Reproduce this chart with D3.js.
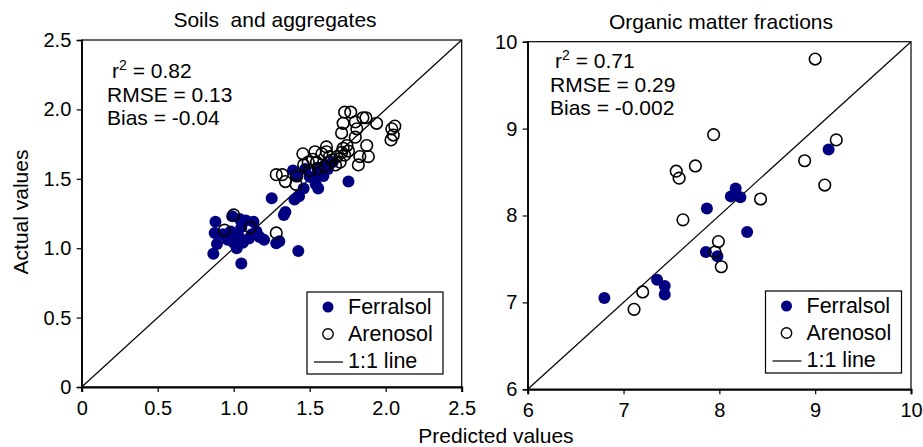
<!DOCTYPE html>
<html>
<head>
<meta charset="utf-8">
<script src="https://cdn.jsdelivr.net/npm/d3@7"></script>
<style>
  body { margin: 0; background: #fff; }
  svg { font-family: "Liberation Sans", Arial, Helvetica, sans-serif; }
</style>
</head>
<body>
<div id="chart"></div>
<script>
// data

// Soils and aggregates
var soilFerralsol = [
  [0.88,1.19],[0.875,1.11],[0.89,1.03],[0.866,0.96],[0.93,1.10],[0.96,1.06],[0.98,1.12],
  [1.00,1.04],[1.02,1.00],[1.03,1.09],[1.05,1.15],[1.06,1.04],[1.08,1.20],[1.10,1.07],
  [1.12,1.10],[1.13,1.19],[1.15,1.12],[1.17,1.08],[1.20,1.06],[1.05,0.89],[0.99,1.23],
  [1.04,1.21],[1.28,1.035],[1.30,1.05],[1.425,0.98],[1.25,1.36],[1.34,1.26],[1.33,1.24],
  [1.40,1.35],[1.43,1.375],[1.39,1.56],[1.41,1.52],[1.50,1.515],[1.54,1.46],[1.556,1.43],
  [1.57,1.54],[1.59,1.52],[1.55,1.58],[1.62,1.57],[1.60,1.60],[1.65,1.62],[1.755,1.48],
  [1.47,1.57],[1.53,1.50],[1.46,1.43]
];
var soilArenosol = [
  [0.94,1.13],[1.00,1.24],[1.11,1.15],[1.28,1.11],
  [1.28,1.53],[1.32,1.53],[1.34,1.48],[1.41,1.46],[1.415,1.52],
  [1.455,1.68],[1.46,1.60],[1.49,1.62],[1.50,1.56],[1.52,1.64],[1.535,1.695],[1.545,1.62],
  [1.556,1.575],[1.58,1.68],[1.60,1.59],[1.61,1.73],[1.61,1.695],[1.63,1.66],[1.645,1.635],
  [1.67,1.60],[1.68,1.66],[1.70,1.62],[1.71,1.69],[1.72,1.72],[1.73,1.67],[1.745,1.74],
  [1.755,1.70],[1.71,1.83],[1.72,1.90],[1.73,1.98],[1.77,1.98],[1.80,1.91],[1.81,1.86],
  [1.80,1.80],[1.82,1.60],[1.83,1.66],[1.875,1.74],[1.886,1.66],[1.85,1.94],[1.87,1.94],
  [1.94,1.90],[2.035,1.78],[2.05,1.815],[2.04,1.86],[2.06,1.88]
];

// Organic matter fractions
var omFerralsol = [
  [9.14,8.76],[8.17,8.31],[8.12,8.22],[8.22,8.21],[7.87,8.08],[8.29,7.81],
  [7.86,7.58],[7.98,7.53],[7.35,7.26],[7.43,7.19],[7.43,7.09],[6.80,7.05]
];
var omArenosol = [
  [9.00,9.80],[7.94,8.93],[9.22,8.87],[8.89,8.63],[7.75,8.57],[7.55,8.51],[7.58,8.43],
  [9.10,8.35],[8.43,8.19],[7.62,7.95],[7.99,7.70],[7.955,7.58],[8.02,7.41],[7.20,7.12],
  [7.11,6.92]
];

var soilTicks = [0, 0.5, 1.0, 1.5, 2.0, 2.5];
var omTicks = [6, 7, 8, 9, 10];
var soilStats = ["0.82", "RMSE = 0.13", "Bias = -0.04"];
var omStats = ["0.71", "RMSE = 0.29", "Bias = -0.002"];
var legendLabels = ["Ferralsol", "Arenosol", "1:1 line"];

var navy = "#000080";

var svg = d3.select('#chart')
    .append('svg')
    .attr('width', 923)
    .attr('height', 447);

function drawPanel(p) {
    var g = svg.append('g');

    var x_scale = d3.scaleLinear().domain(p.domain).range([p.left, p.right]);
    var y_scale = d3.scaleLinear().domain(p.domain).range([p.bottom, p.top]);

    // frame
    g.append('rect')
        .attr('x', p.left).attr('y', p.top)
        .attr('width', p.right - p.left).attr('height', p.bottom - p.top)
        .attr('fill', 'none').attr('stroke', '#000').attr('stroke-width', 1.2);

    // axes
    var x_axis = d3.axisBottom(x_scale).tickValues(p.ticks).tickSize(5).tickFormat(p.fmt);
    var y_axis = d3.axisLeft(y_scale).tickValues(p.ticks).tickSize(5).tickFormat(p.fmt);

    var xa = g.append('g')
        .attr('transform', 'translate(0,' + p.bottom + ')')
        .call(x_axis);
    xa.attr('font-family', null);
    xa.select('.domain').attr('stroke-width', 2);
    xa.selectAll('text').attr('font-size', 20).attr('dy', '1.0em');

    var ya = g.append('g')
        .attr('transform', 'translate(' + p.left + ',0)')
        .call(y_axis);
    ya.attr('font-family', null);
    ya.select('.domain').attr('stroke-width', 1.5);
    ya.selectAll('text').attr('font-size', 20).attr('dx', '-0.12em');
    g.selectAll('.tick line').attr('stroke-width', 1.2);

    // 1:1 line
    g.append('line')
        .attr('x1', x_scale(p.domain[0])).attr('y1', y_scale(p.domain[0]))
        .attr('x2', x_scale(p.domain[1])).attr('y2', y_scale(p.domain[1]))
        .attr('stroke', '#000').attr('stroke-width', 1.2);

    // points
    g.selectAll('.fer')
        .data(p.fer)
        .enter()
        .append('circle')
        .attr('cx', function(d){ return x_scale(d[0]); })
        .attr('cy', function(d){ return y_scale(d[1]); })
        .attr('r', 6)
        .attr('fill', navy);

    g.selectAll('.are')
        .data(p.are)
        .enter()
        .append('circle')
        .attr('cx', function(d){ return x_scale(d[0]); })
        .attr('cy', function(d){ return y_scale(d[1]); })
        .attr('r', 5.8)
        .attr('fill', 'none')
        .attr('stroke', '#000')
        .attr('stroke-width', 1.6);

    // title
    g.append('text')
        .attr('x', p.titleX).attr('y', p.titleY)
        .attr('text-anchor', 'middle')
        .attr('font-size', 21)
        .style('white-space', 'pre')
        .text(p.title);

    // stats
    var st = g.append('text')
        .attr('x', p.statX + 5).attr('y', p.statY)
        .attr('font-size', 21);
    st.append('tspan').text('r');
    st.append('tspan').attr('font-size', 14).attr('dy', -8).text('2');
    st.append('tspan').attr('dy', 8).text(' = ' + p.stats[0]);
    g.append('text')
        .attr('x', p.statX).attr('y', p.statY + 24)
        .attr('font-size', 21).text(p.stats[1]);
    g.append('text')
        .attr('x', p.statX).attr('y', p.statY + 47)
        .attr('font-size', 21).text(p.stats[2]);

    // legend
    var lx = p.legX, ly = p.legY;
    g.append('rect')
        .attr('x', lx).attr('y', ly)
        .attr('width', 136).attr('height', 82)
        .attr('fill', '#fff').attr('stroke', '#000').attr('stroke-width', 1.2);
    g.append('circle')
        .attr('cx', lx + 21).attr('cy', ly + 15).attr('r', 5.5).attr('fill', navy);
    g.append('circle')
        .attr('cx', lx + 21).attr('cy', ly + 42).attr('r', 5.2)
        .attr('fill', 'none').attr('stroke', '#000').attr('stroke-width', 1.4);
    g.append('line')
        .attr('x1', lx + 7).attr('x2', lx + 36)
        .attr('y1', ly + 70).attr('y2', ly + 70)
        .attr('stroke', '#000').attr('stroke-width', 1.2);
    g.selectAll('.leg')
        .data(legendLabels)
        .enter()
        .append('text')
        .attr('x', lx + 41)
        .attr('y', function(d, i){ return ly + 22 + i * 27; })
        .attr('font-size', 21.5)
        .text(function(d){ return d; });
}

drawPanel({
    domain: [0, 2.5], ticks: soilTicks,
    fmt: function(d){ return d === 0 ? '0' : d3.format('.1f')(d); },
    left: 81.7, right: 461.7, top: 40, bottom: 387,
    fer: soilFerralsol, are: soilArenosol,
    title: 'Soils  and aggregates', titleX: 275, titleY: 27,
    stats: soilStats, statX: 107, statY: 78,
    legX: 307, legY: 292
});

drawPanel({
    domain: [6, 10], ticks: omTicks,
    fmt: d3.format('d'),
    left: 527.7, right: 911, top: 41.7, bottom: 389.3,
    fer: omFerralsol, are: omArenosol,
    title: 'Organic matter fractions', titleX: 721, titleY: 29,
    stats: omStats, statX: 550, statY: 68,
    legX: 765.5, legY: 291
});

// axis titles
svg.append('text')
    .attr('transform', 'rotate(-90)')
    .attr('x', -212)
    .attr('y', 28)
    .attr('text-anchor', 'middle')
    .attr('font-size', 21)
    .text('Actual values');

svg.append('text')
    .attr('x', 496)
    .attr('y', 443)
    .attr('text-anchor', 'middle')
    .attr('font-size', 21)
    .text('Predicted values');
</script>
</body>
</html>
